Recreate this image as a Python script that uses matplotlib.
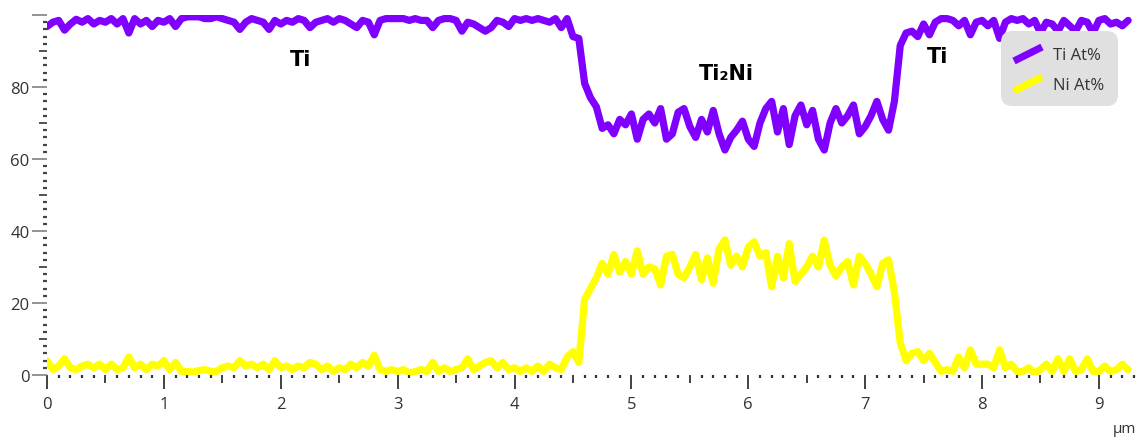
import numpy as np
import matplotlib
matplotlib.use("Agg")
import matplotlib.pyplot as plt
from matplotlib.ticker import FixedLocator, NullFormatter
from matplotlib.patches import FancyBboxPatch
from matplotlib.lines import Line2D
import matplotlib.transforms as mtransforms

# ---------------- data (EDS line scan, sampled every 0.05 um) ----------------
scan_step_um = 0.05

ti_at = [
    96.8, 98.0, 98.5, 95.8, 97.5, 98.8, 98.0, 99.0, 97.5, 98.5,
    98.0, 99.0, 97.5, 99.0, 95.0, 99.0, 97.5, 98.5, 96.8, 98.5,
    98.0, 99.0, 96.8, 99.0, 99.5, 99.5, 99.5, 99.0, 99.0, 99.5,
    99.0, 98.5, 98.0, 96.0, 98.0, 99.0, 98.5, 98.0, 96.0, 98.5,
    97.5, 98.5, 98.0, 99.0, 98.5, 96.5, 98.0, 98.5, 99.0, 98.0,
    99.0, 98.5, 97.5, 96.5, 98.5, 98.0, 94.5, 98.5, 99.0, 99.0,
    99.0, 99.0, 98.5, 99.0, 98.5, 98.5, 96.5, 98.5, 99.0, 99.0,
    98.5, 95.5, 98.0, 97.5, 96.5, 95.5, 96.5, 98.5, 98.0, 96.8,
    99.0, 98.5, 99.0, 98.5, 99.0, 98.5, 98.0, 99.0, 96.5, 99.0,
    94.0, 93.5, 81.0, 77.0, 74.5, 68.5, 69.5, 67.0, 71.0, 69.5,
    72.5, 65.5, 71.0, 72.5, 70.0, 74.0, 65.5, 67.0, 73.0, 74.0,
    69.0, 66.0, 71.0, 67.5, 73.5, 67.0, 62.5, 66.0, 68.0, 70.5,
    65.5, 63.5, 70.0, 74.0, 76.0, 67.5, 74.0, 64.0, 72.0, 75.0,
    69.5, 73.5, 65.5, 62.5, 70.0, 74.0, 70.0, 72.0, 75.0, 67.0,
    69.0, 72.0, 76.0, 71.0, 68.0, 76.0, 91.5, 95.0, 95.5, 94.0,
    97.5, 94.5, 98.0, 99.0, 99.0, 98.5, 97.0, 98.5, 94.5, 98.0,
    98.5, 97.0, 98.5, 93.5, 98.0, 99.0, 98.5, 99.0, 97.5, 98.5,
    95.0, 98.0, 97.5, 95.5, 98.5, 97.0, 95.5, 98.5, 98.0, 95.0,
    98.5, 99.0, 97.5, 98.0, 97.0, 98.5,
]

ni_at = [
    4.0, 1.5, 2.5, 4.5, 2.0, 1.5, 2.5, 3.0, 2.0, 3.0,
    1.5, 3.0, 1.5, 2.0, 5.0, 2.0, 3.0, 1.5, 3.0, 2.5,
    4.0, 1.5, 3.5, 1.0, 1.0, 0.8, 1.2, 1.5, 1.0, 1.0,
    2.0, 2.5, 2.0, 4.0, 2.5, 3.0, 2.0, 3.0, 1.5, 4.0,
    2.0, 2.5, 1.5, 2.5, 2.0, 3.5, 3.0, 1.5, 2.5, 1.0,
    2.0, 1.5, 3.0, 2.0, 3.5, 2.5, 5.5, 1.5, 1.0, 1.5,
    1.0, 1.5, 0.5, 1.0, 1.5, 1.0, 3.5, 1.0, 2.0, 1.0,
    1.5, 2.0, 4.5, 1.5, 2.5, 3.5, 4.0, 2.0, 3.5, 1.5,
    2.0, 1.0, 2.0, 1.0, 2.5, 1.0, 3.0, 2.0, 1.5, 5.0,
    6.5, 3.5, 21.0, 24.0, 27.0, 31.0, 28.0, 33.5, 28.5, 31.5,
    28.0, 34.5, 28.0, 30.0, 29.5, 25.0, 33.0, 33.5, 28.0, 27.0,
    30.0, 33.5, 26.5, 32.5, 25.5, 35.0, 37.5, 30.5, 33.0, 30.0,
    35.5, 37.0, 33.0, 34.0, 24.5, 33.0, 27.0, 36.5, 26.0, 28.0,
    30.0, 33.0, 30.0, 37.5, 30.5, 27.5, 30.0, 31.5, 25.0, 33.0,
    31.0, 28.0, 24.5, 31.0, 32.0, 23.0, 9.0, 4.0, 6.0, 6.5,
    4.0, 6.0, 3.5, 1.0, 1.5, 1.0, 5.0, 2.0, 7.0, 3.0,
    3.0, 3.0, 2.0, 7.0, 2.0, 3.0, 1.0, 1.0, 2.0, 0.5,
    1.5, 3.0, 1.0, 4.5, 1.0, 4.5, 1.0, 1.5, 4.5, 1.0,
    1.0, 2.5, 1.0, 1.5, 3.0, 1.5,
]

series_labels = ["Ti At%", "Ni At%"]
phase_labels = ["Ti", "Ti\u2082Ni", "Ti"]
phase_x = [2.17, 5.81, 7.62]
phase_y = [87.8, 83.9, 88.5]
x_tick_values = [0, 1, 2, 3, 4, 5, 6, 7, 8, 9]
y_tick_values = [0, 20, 40, 60, 80, 100]
y_tick_labels = ["0", "20", "40", "60", "80", ""]

x_um = np.arange(len(ti_at)) * scan_step_um

# ---------------- styling ----------------
TI_COLOR = "#7f00ff"
NI_COLOR = "#ffff00"
TEXT_COLOR = "#333333"
FONT = ["Open Sans", "DejaVu Sans"]
LW = 5.2

W, H, DPI = 1136, 439, 100
fig = plt.figure(figsize=(W / DPI, H / DPI), dpi=DPI)
fig.patch.set_facecolor("white")

ax = fig.add_axes([47 / W, (H - 376) / H, (1134 - 47) / W, (376 - 16) / H])
ax.set_xlim(0, 9.30)
ax.set_ylim(0, 100)
for s in ax.spines.values():
    s.set_visible(False)

ax.plot(x_um, ti_at, color=TI_COLOR, lw=LW, solid_joinstyle="round",
        solid_capstyle="round", zorder=3)
ax.plot(x_um, ni_at, color=NI_COLOR, lw=LW, solid_joinstyle="round",
        solid_capstyle="round", zorder=3)

# x ticks
ax.xaxis.set_major_locator(FixedLocator(x_tick_values))
ax.xaxis.set_minor_locator(FixedLocator([i / 10 for i in range(1, 94) if i % 5]))
ax.tick_params(axis="x", which="major", length=10, width=1.3, color="#333333",
               direction="out", pad=5, labelsize=12, labelcolor=TEXT_COLOR)
ax.tick_params(axis="x", which="minor", length=2.5, width=1.6, color="#333333",
               direction="out")
secx = ax.secondary_xaxis("bottom")
secx.set_xticks([k + 0.5 for k in range(9)])
secx.xaxis.set_major_formatter(NullFormatter())
secx.tick_params(axis="x", length=5.5, width=1.3, color="#333333", direction="out")
for s in secx.spines.values():
    s.set_visible(False)

# y ticks
ax.set_yticks(y_tick_values)
ax.set_yticklabels(y_tick_labels)
ax.yaxis.set_minor_locator(FixedLocator([v for v in range(2, 100, 2) if v % 10]))
ax.tick_params(axis="y", which="major", length=11, width=1.1, color="#777777",
               direction="out", pad=1.5, labelsize=12, labelcolor=TEXT_COLOR)
ax.tick_params(axis="y", which="minor", length=2.8, width=1.6, color="#444444",
               direction="out")
secy = ax.secondary_yaxis("left")
secy.set_yticks([10, 30, 50, 70, 90])
secy.yaxis.set_major_formatter(NullFormatter())
secy.tick_params(axis="y", length=5.5, width=1.3, color="#444444", direction="out")
for s in secy.spines.values():
    s.set_visible(False)

for lab in ax.get_xticklabels() + ax.get_yticklabels():
    lab.set_family(FONT)

# phase annotations
for lbl, px, py_ in zip(phase_labels, phase_x, phase_y):
    ax.text(px, py_, lbl, ha="center", va="center", fontsize=15,
            fontweight="bold", color="black", family=["DejaVu Sans"], zorder=4)

# ---------------- legend (drawn in pixel coordinates) ----------------
pix = mtransforms.Affine2D().scale(1.0 / DPI) + fig.dpi_scale_trans


def py(y):
    return H - y


box = FancyBboxPatch((1001, py(107)), 117, 75,
                     boxstyle="round,pad=0,rounding_size=11",
                     transform=pix, facecolor="#e0e0e0", edgecolor="none",
                     zorder=5)
fig.add_artist(box)
for i, (lbl, col) in enumerate(zip(series_labels, [TI_COLOR, NI_COLOR])):
    yc = 55 + 30 * i
    fig.add_artist(Line2D([1014, 1042], [py(yc + 7), py(yc - 7)],
                          transform=pix, color=col, lw=LW,
                          solid_capstyle="butt", zorder=6))
    fig.text(1053, py(yc + 1), lbl, transform=pix, ha="left", va="center",
             fontsize=12, color=TEXT_COLOR, family=FONT, zorder=6)

fig.text(1124, py(430), "\u00b5m", transform=pix, ha="center", va="center",
         fontsize=11, color=TEXT_COLOR, family=FONT)

fig.savefig("out.png", dpi=DPI)
